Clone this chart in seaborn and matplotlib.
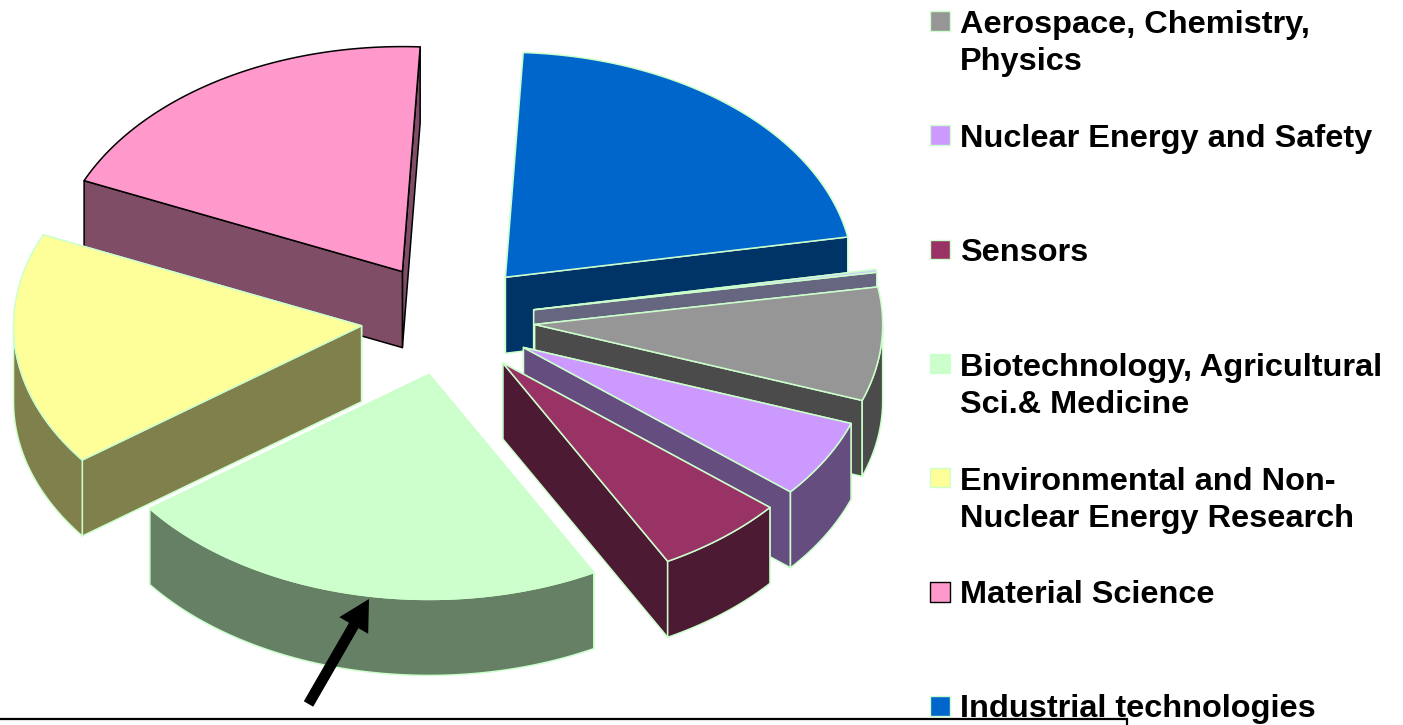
#!/usr/bin/env python3

import numpy as np
import pandas as pd
import seaborn as sns
import matplotlib.pyplot as plt

# shares in percent, clockwise, legend order (last slice has no legend entry left in the picture)
categories = [
    "Aerospace, Chemistry,\nPhysics",
    "Nuclear Energy and Safety",
    "Sensors",
    "Biotechnology, Agricultural\nSci.& Medicine",
    "Environmental and Non-\nNuclear Energy Research",
    "Material Science",
    "Industrial technologies",
    "",
]
shares = [8.15, 5.6, 6.07, 22.67, 16.8, 19.19, 21.32, 0.2]
top_colors = ["#969696", "#CC99FF", "#993366", "#CCFFCC", "#FFFF99", "#FF99CC", "#0066CC", "#CCCCFF"]
edge_colors = ["#CCFFCC", "#CCFFCC", "#CCFFCC", "#CCFFCC", "#CCFFCC", "#000000", "#CCFFCC", "#CCFFCC"]

FIRST_ANGLE = 9.6
EXPLODE = 0.25
CENTER_X, CENTER_Y = 448, 319.5
RADIUS_X, RADIUS_Y = 348, 225
DEPTH = 76


def arc_points(apex, t0, t1):
    t = np.radians(np.linspace(t0, t1, max(int(abs(t1 - t0)) * 2, 2)))
    return apex[0] + RADIUS_X * np.cos(t), apex[1] - RADIUS_Y * np.sin(t)


def draw_slice(ax, t0, t1, color, edge):
    """t0 > t1, going clockwise"""
    mid = np.radians((t0 + t1) / 2)
    apex = (CENTER_X + RADIUS_X * EXPLODE * np.cos(mid), CENTER_Y - RADIUS_Y * EXPLODE * np.sin(mid))
    dark = tuple(c * 0.5 for c in plt.matplotlib.colors.to_rgb(color))
    style = dict(facecolor=dark, edgecolor=edge, linewidth=1.1, joinstyle="round")

    x, y = arc_points(apex, t0, t1)

    faces = []
    for px, py in [(x[0], y[0]), (x[-1], y[-1])]:
        faces.append(([apex[0], px, px, apex[0]], [apex[1], py, py + DEPTH, apex[1] + DEPTH]))
    faces.sort(key=lambda f: np.mean(f[1]))
    for fx, fy in faces:
        ax.fill(fx, fy, **style)

    # only the front of the rim can be seen
    r0, r1 = min(t0, 0), max(t1, -180)
    if r0 > r1:
        rx, ry = arc_points(apex, r0, r1)
        ax.fill(np.r_[rx, rx[::-1]], np.r_[ry, ry[::-1] + DEPTH], **style)

    ax.fill(np.r_[apex[0], x], np.r_[apex[1], y], facecolor=color, edgecolor=edge,
            linewidth=1.1, joinstyle="round")


def mk_plot():
    sns.set_theme(style="white")
    plt.rcParams["font.family"] = ["Liberation Sans", "DejaVu Sans"]
    fig = plt.figure(figsize=(14.03, 7.25), dpi=100)
    ax = fig.add_axes([0, 0, 1, 1])

    sweeps = np.array(shares) * 360 / sum(shares)
    ends = FIRST_ANGLE - np.cumsum(sweeps)
    starts = ends + sweeps

    # back slices first
    mids = np.radians((starts + ends) / 2)
    order = np.argsort(-(RADIUS_Y * EXPLODE * np.sin(mids)))
    for i in order:
        draw_slice(ax, starts[i], ends[i], top_colors[i], edge_colors[i])

    # legend, spaced evenly down the right side
    n = len(categories) - 1
    legend_df = pd.DataFrame({
        "name": categories[:n],
        "x": [940] * n,
        "y": np.linspace(21, 706, n),
    })
    sns.scatterplot(data=legend_df, x="x", y="y", hue="name", palette=top_colors[:n], marker="s",
                    s=200, edgecolor=edge_colors[:n], linewidth=1, legend=False, ax=ax)
    for _, row in legend_df.iterrows():
        # va=baseline sits on the last line of the label
        ax.text(960, row["y"] + 11.5 + 37.5 * row["name"].count("\n"), row["name"], fontsize=23.4,
                fontweight="bold", color="black", va="baseline", ha="left", linespacing=1.3)

    ax.annotate("", xy=(369, 599), xytext=(308.5, 704),
                arrowprops=dict(facecolor="black", edgecolor="black", width=7.8, headwidth=24,
                                headlength=22, shrink=0, linewidth=0))

    # remains of a box cut off by the page
    ax.plot([0, 1127, 1127], [719, 719, 725], color="black", linewidth=1.6, solid_joinstyle="miter")

    ax.set_xlim(0, 1403)
    ax.set_ylim(725, 0)
    ax.axis("off")
    fig.savefig("out.png", dpi=100, facecolor="white")
    plt.clf()


if __name__ == "__main__":
    mk_plot()
